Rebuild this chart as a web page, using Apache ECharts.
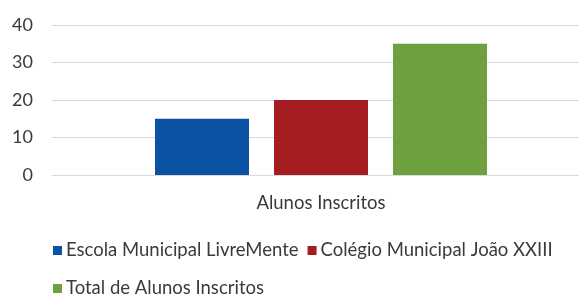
<!DOCTYPE html>
<html><head><meta charset="utf-8">
<script src="https://cdn.jsdelivr.net/npm/echarts@6/dist/echarts.min.js"></script>
<style>html,body{margin:0;padding:0;background:#fff}#c{width:579px;height:296px}</style>
</head><body><div id="c"></div>
<script>
const categories = ['Alunos Inscritos'];
const seriesNames = ['Escola Municipal LivreMente', 'Colégio Municipal João XXIII', 'Total de Alunos Inscritos'];
const seriesValues = [[15], [20], [35]];
const seriesColors = ['#0b52a5', '#a31d21', '#6ea040'];
const yTicks = [0, 10, 20, 30, 40];

const FONT = 'Lato';
const chart = echarts.init(document.getElementById('c'), null, {renderer: 'canvas'});
chart.setOption({
  animation: false,
  textStyle: {fontFamily: FONT},
  grid: {left: 52, top: 25, right: -11, height: 150, containLabel: false, outerBoundsMode: 'none'},
  legend: [
    {data: seriesNames.slice(0, 2), left: 48, top: 236, itemWidth: 9, itemHeight: 9, itemGap: 9, icon: 'rect',
     textStyle: {fontFamily: FONT, fontSize: 18.5, color: '#3a3a3a', padding: [0, 0, 0, -1]}},
    {data: seriesNames.slice(2), left: 48, top: 274, itemWidth: 9, itemHeight: 9, itemGap: 9, icon: 'rect',
     textStyle: {fontFamily: FONT, fontSize: 18.5, color: '#3a3a3a', padding: [0, 0, 0, -1]}}
  ],
  xAxis: {type: 'category', data: categories,
    axisLine: {show: true, lineStyle: {color: '#d9d9d9', width: 1}},
    axisTick: {show: false},
    axisLabel: {fontFamily: FONT, fontSize: 18.5, color: '#3a3a3a', margin: 19}},
  yAxis: {type: 'value', min: yTicks[0], max: yTicks[yTicks.length - 1], interval: 10,
    axisLine: {show: false}, axisTick: {show: false},
    splitLine: {lineStyle: {color: '#d9d9d9', width: 1}},
    axisLabel: {fontFamily: FONT, fontSize: 18, color: '#3a3a3a', margin: 19}},
  series: seriesNames.map((n, i) => ({
    name: n, type: 'bar', data: seriesValues[i], barWidth: 94, barGap: '26.6%',
    itemStyle: {color: seriesColors[i]}
  }))
});
</script></body></html>
